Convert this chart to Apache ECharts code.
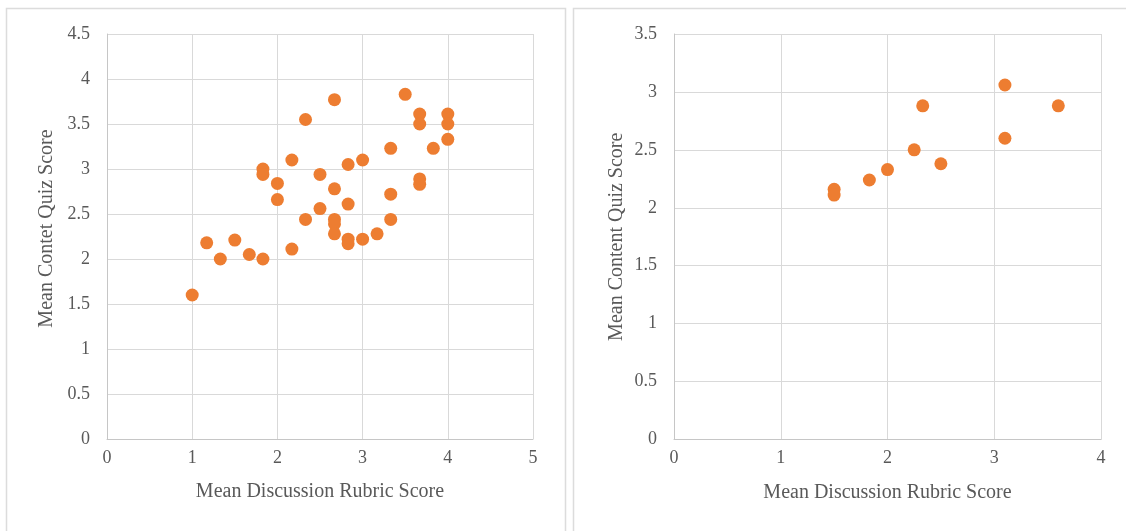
<!DOCTYPE html>
<html>
<head>
<meta charset="utf-8">
<script src="https://cdn.jsdelivr.net/npm/echarts@6/dist/echarts.min.js"></script>
<style>
  html, body { margin: 0; padding: 0; background: #ffffff; }
  #chart { width: 1126px; height: 531px; }
</style>
</head>
<body>
<div id="chart"></div>
<script>
// Course A: mean discussion rubric score vs. mean content quiz score
const leftPoints = [
  [1.00, 1.60], [1.17, 2.18], [1.33, 2.00], [1.50, 2.21], [1.67, 2.05],
  [1.83, 2.00], [1.83, 3.00], [1.83, 2.94], [2.00, 2.84], [2.00, 2.66],
  [2.17, 3.10], [2.17, 2.11], [2.33, 3.55], [2.33, 2.44], [2.50, 2.94],
  [2.50, 2.56], [2.67, 3.77], [2.67, 2.78], [2.67, 2.44], [2.67, 2.39],
  [2.67, 2.28], [2.83, 3.05], [2.83, 2.61], [2.83, 2.22], [2.83, 2.17],
  [3.00, 3.10], [3.00, 2.22], [3.17, 2.28], [3.33, 3.23], [3.33, 2.72],
  [3.33, 2.44], [3.50, 3.83], [3.67, 3.61], [3.67, 3.50], [3.67, 2.89],
  [3.67, 2.83], [3.83, 3.23], [4.00, 3.61], [4.00, 3.50], [4.00, 3.33]
];

// Course B: same measures
const rightPoints = [
  [1.50, 2.16], [1.50, 2.11], [1.83, 2.24], [2.00, 2.33], [2.25, 2.50],
  [2.50, 2.38], [2.33, 2.88], [3.10, 3.06], [3.10, 2.60], [3.60, 2.88]
];

const xTitle = 'Mean Discussion Rubric Score';
const leftYTitle = 'Mean Contet Quiz Score';
const rightYTitle = 'Mean Content Quiz Score';

const leftXRange = { min: 0, max: 5, interval: 1 };
const leftYRange = { min: 0, max: 4.5, interval: 0.5 };
const rightXRange = { min: 0, max: 4, interval: 1 };
const rightYRange = { min: 0, max: 3.5, interval: 0.5 };

const FONT = '"Liberation Serif", "DejaVu Serif", serif';
const TEXT = '#595959';
const GRID = '#d9d9d9';
const AXIS = '#c6c6c6';
const DOT = '#ED7D31';

function xAxis(gridIndex, range, gap) {
  return {
    type: 'value', gridIndex,
    min: range.min, max: range.max, interval: range.interval,
    name: xTitle, nameLocation: 'middle', nameGap: gap,
    nameTextStyle: { fontFamily: FONT, fontSize: 20, color: TEXT },
    axisLine: { show: true, lineStyle: { color: AXIS, width: 1 } },
    axisTick: { show: false },
    axisLabel: { fontFamily: FONT, fontSize: 18, color: TEXT, margin: 10 },
    splitLine: { show: true, lineStyle: { color: GRID, width: 1 } }
  };
}

function yAxis(gridIndex, range, title, gap, padding) {
  return {
    type: 'value', gridIndex,
    min: range.min, max: range.max, interval: range.interval,
    name: title, nameLocation: 'middle', nameGap: gap,
    nameTextStyle: { fontFamily: FONT, fontSize: 20, color: TEXT, padding },
    axisLine: { show: true, lineStyle: { color: AXIS, width: 1 } },
    axisTick: { show: false },
    axisLabel: { fontFamily: FONT, fontSize: 18, color: TEXT, margin: 17 },
    splitLine: { show: true, lineStyle: { color: GRID, width: 1 } }
  };
}

const chart = echarts.init(document.getElementById('chart'), null, { renderer: 'canvas' });

chart.setOption({
  backgroundColor: '#ffffff',
  animation: false,
  graphic: [
    { type: 'rect', silent: true, z: -10,
      shape: { x: 6.5, y: 8.5, width: 559, height: 540 },
      style: { fill: '#ffffff', stroke: '#dcdcdc', lineWidth: 1.5 } },
    { type: 'rect', silent: true, z: -10,
      shape: { x: 573.5, y: 8.5, width: 600, height: 540 },
      style: { fill: '#ffffff', stroke: '#dcdcdc', lineWidth: 1.5 } }
  ],
  grid: [
    { left: 107, top: 34, width: 426, height: 405 },
    { left: 674, top: 34, width: 427, height: 405.5 }
  ],
  xAxis: [xAxis(0, leftXRange, 43), xAxis(1, rightXRange, 43)],
  yAxis: [
    yAxis(0, leftYRange, leftYTitle, 50, [0, 0, 0, 16]),
    yAxis(1, rightYRange, rightYTitle, 47, 0)
  ],
  series: [
    { type: 'scatter', xAxisIndex: 0, yAxisIndex: 0, data: leftPoints,
      symbol: 'circle', symbolSize: 13, itemStyle: { color: DOT, opacity: 1 } },
    { type: 'scatter', xAxisIndex: 1, yAxisIndex: 1, data: rightPoints,
      symbol: 'circle', symbolSize: 13, itemStyle: { color: DOT, opacity: 1 } }
  ]
});
</script>
</body>
</html>
